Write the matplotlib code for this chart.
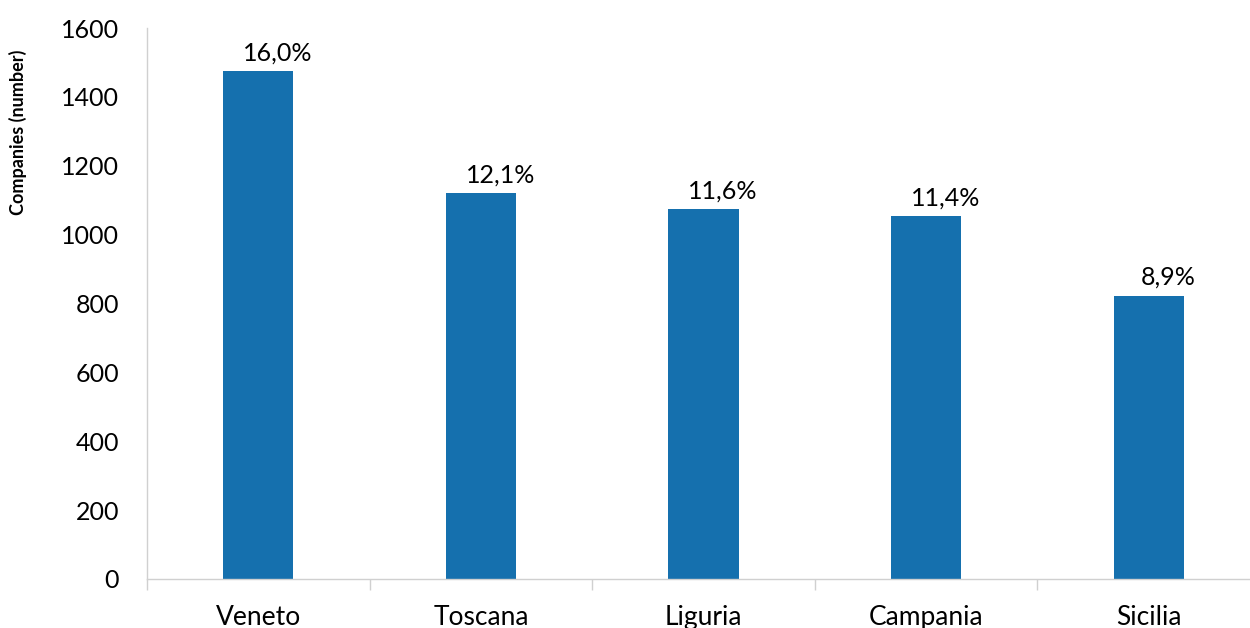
import numpy as np
import matplotlib
matplotlib.use("Agg")
import matplotlib.pyplot as plt
from matplotlib.ticker import FixedLocator

regions = ["Veneto", "Toscana", "Liguria", "Campania", "Sicilia"]
companies = [1475, 1120, 1073, 1053, 823]
shares = ["16,0%", "12,1%", "11,6%", "11,4%", "8,9%"]

plt.rcParams["font.family"] = ["Lato", "DejaVu Sans"]

fig = plt.figure(figsize=(12.5, 6.28), dpi=100)
fig.patch.set_facecolor("white")
# axes runs a bit past the right edge, as in the source
ax = fig.add_axes([147 / 1250, 49 / 628, 1113 / 1250, 551 / 628])

x = np.arange(len(regions))
ax.bar(x, companies, width=0.315, color="#1570ae", zorder=2)

for xi, v, s in zip(x, companies, shares):
    ax.annotate(s, (xi, v), xytext=(14, 5), textcoords="offset points",
                ha="center", va="bottom", fontsize=18, color="black")

ax.set_xlim(-0.5, len(regions) - 0.5)
ax.set_ylim(0, 1600)
ax.set_yticks(range(0, 1601, 200))
ax.set_xticks(x)
ax.set_xticklabels(regions)
ax.xaxis.set_minor_locator(FixedLocator(np.arange(-0.5, len(regions), 1.0)))
ax.tick_params(axis="x", which="major", length=0, pad=19, labelsize=19)
ax.tick_params(axis="x", which="minor", length=8, color="#d0d0d0", width=1)
ax.tick_params(axis="y", length=0, pad=20, labelsize=18)

for side in ["top", "right"]:
    ax.spines[side].set_visible(False)
for side in ["left", "bottom"]:
    ax.spines[side].set_color("#d0d0d0")
    ax.spines[side].set_linewidth(1)

fig.text(18 / 1250, 1 - 132 / 628, "Companies (number)", rotation=90,
         ha="center", va="center", fontsize=13, fontweight="bold")

fig.savefig("out.png", dpi=100)
